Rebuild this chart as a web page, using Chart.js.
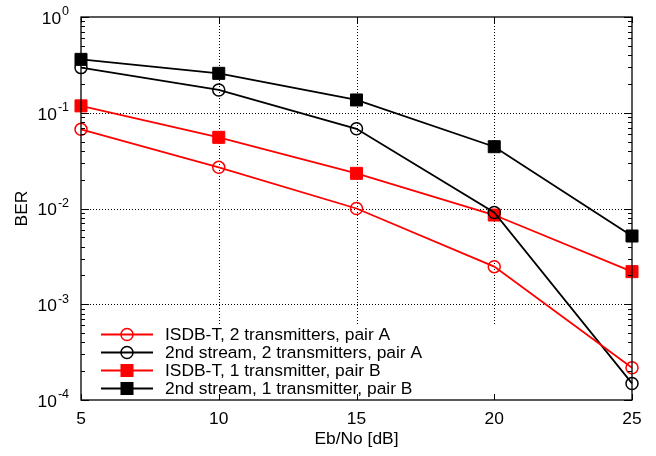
<!DOCTYPE html>
<html><head><meta charset="utf-8">
<script src="https://cdn.jsdelivr.net/npm/chart.js@4"></script>
<style>html,body{margin:0;padding:0;background:#fff}#c{display:block}</style>
</head><body>
<canvas id="c" width="656" height="456"></canvas>
<script>
// ---- data ----
const ebno = [5, 10, 15, 20, 25];
const isdb2A   = [0.0671, 0.0269, 0.0100, 0.00247, 0.000217];
const second2A = [0.296, 0.173, 0.068, 0.0091, 0.000149];
const isdb1B   = [0.118, 0.0554, 0.0233, 0.00855, 0.00219];
const second1B = [0.361, 0.258, 0.136, 0.0442, 0.00516];
const seriesNames = [
  'ISDB-T, 2 transmitters, pair A',
  '2nd stream, 2 transmitters, pair A',
  'ISDB-T, 1 transmitter, pair B',
  '2nd stream, 1 transmitter, pair B'
];
const xTickLabels = ['5', '10', '15', '20', '25'];
const yTickExponents = [0, -1, -2, -3, -4];
const xTitle = 'Eb/No [dB]';
const yTitle = 'BER';

const FONT = '"Liberation Sans", Arial, Helvetica, sans-serif';
const RED = '#ff0000', BLACK = '#000000';
const styles = [
  {color: RED,   point: 'circle', radius: 6,   fill: 'rgba(0,0,0,0)'},
  {color: BLACK, point: 'circle', radius: 6,   fill: 'rgba(0,0,0,0)'},
  {color: RED,   point: 'rect',   radius: 8.5, fill: RED},
  {color: BLACK, point: 'rect',   radius: 8.5, fill: BLACK}
];
const seriesData = [isdb2A, second2A, isdb1B, second1B];

const datasets = seriesData.map((arr, i) => ({
  label: seriesNames[i],
  data: arr.map((v, j) => ({x: ebno[j], y: v})),
  borderColor: styles[i].color,
  borderWidth: 1.8,
  pointStyle: styles[i].point,
  pointRadius: styles[i].radius,
  pointHoverRadius: styles[i].radius,
  pointBackgroundColor: styles[i].fill,
  pointBorderColor: styles[i].color,
  pointBorderWidth: styles[i].point === 'circle' ? 1.5 : 1,
  tension: 0,
  clip: false
}));

function drawMarker(ctx, st, x, y) {
  ctx.save();
  ctx.strokeStyle = st.color;
  ctx.fillStyle = st.fill;
  ctx.setLineDash([]);
  if (st.point === 'circle') {
    ctx.lineWidth = 1.5;
    ctx.beginPath();
    ctx.arc(x, y, st.radius, 0, Math.PI * 2);
    ctx.stroke();
  } else {
    const s = Math.SQRT1_2 * st.radius;
    ctx.lineWidth = 1;
    ctx.fillRect(x - s, y - s, 2 * s, 2 * s);
    ctx.strokeRect(x - s, y - s, 2 * s, 2 * s);
  }
  ctx.restore();
}

const legendTop = 325;

const gnuplotPlugin = {
  id: 'gnuplotFrame',
  beforeDatasetsDraw(chart) {
    const ctx = chart.ctx, a = chart.chartArea;
    const xs = chart.scales.x, ys = chart.scales.y;
    ctx.save();
    ctx.strokeStyle = '#000';
    ctx.lineWidth = 1;
    ctx.setLineDash([1, 2]);
    yTickExponents.forEach(e => {
      const v = Math.pow(10, e);
      if (e === 0 || e === -4) return;
      const y = Math.round(ys.getPixelForValue(v)) + 0.5;
      ctx.beginPath(); ctx.moveTo(a.left, y); ctx.lineTo(a.right, y); ctx.stroke();
    });
    ebno.forEach((xv, i) => {
      if (i === 0 || i === ebno.length - 1) return;
      const x = Math.round(xs.getPixelForValue(xv)) + 0.5;
      ctx.beginPath(); ctx.moveTo(x, a.top); ctx.lineTo(x, legendTop); ctx.stroke();
    });
    ctx.restore();
  },
  afterDatasetsDraw(chart) {
    const ctx = chart.ctx, a = chart.chartArea;
    const xs = chart.scales.x, ys = chart.scales.y;
    ctx.save();
    ctx.setLineDash([]);
    ctx.strokeStyle = '#000';
    ctx.lineWidth = 1.3;
    ctx.strokeRect(a.left, a.top, a.right - a.left, a.bottom - a.top);
    ctx.lineWidth = 1;
    // y ticks (major + minor), both sides, inward
    yTickExponents.forEach(e => {
      const base = Math.pow(10, e);
      const y = Math.round(ys.getPixelForValue(base)) + 0.5;
      ctx.beginPath();
      ctx.moveTo(a.left, y); ctx.lineTo(a.left + 8, y);
      ctx.moveTo(a.right, y); ctx.lineTo(a.right - 8, y);
      ctx.stroke();
      if (e < 0) {
        for (let m = 2; m <= 9; m++) {
          const ym = Math.round(ys.getPixelForValue(base * m)) + 0.5;
          ctx.beginPath();
          ctx.moveTo(a.left, ym); ctx.lineTo(a.left + 4, ym);
          ctx.moveTo(a.right, ym); ctx.lineTo(a.right - 4, ym);
          ctx.stroke();
        }
      }
    });
    // x ticks
    ebno.forEach(xv => {
      const x = Math.round(xs.getPixelForValue(xv)) + 0.5;
      ctx.beginPath();
      ctx.moveTo(x, a.bottom); ctx.lineTo(x, a.bottom - 6);
      ctx.moveTo(x, a.top); ctx.lineTo(x, a.top + 6);
      ctx.stroke();
    });
    // x tick labels
    ctx.fillStyle = '#000';
    ctx.font = '17.4px ' + FONT;
    ctx.textAlign = 'center';
    ctx.textBaseline = 'middle';
    ebno.forEach((xv, i) => {
      ctx.fillText(xTickLabels[i], xs.getPixelForValue(xv), a.bottom + 19);
    });
    // x title
    ctx.fillText(xTitle, (a.left + a.right) / 2, a.bottom + 39);
    // y tick labels 10^e
    yTickExponents.forEach(e => {
      const y = ys.getPixelForValue(Math.pow(10, e));
      ctx.font = '17.4px ' + FONT;
      const w1 = ctx.measureText('10').width;
      ctx.font = '12.5px ' + FONT;
      const sup = String(e).replace('-', '-');
      const w2 = ctx.measureText(sup).width;
      const right = a.left - 12;
      const x0 = right - w1 - w2 - 1;
      ctx.textAlign = 'left';
      ctx.font = '17.4px ' + FONT;
      ctx.fillText('10', x0, y + 2);
      ctx.font = '12.5px ' + FONT;
      ctx.fillText(sup, x0 + w1 + 1, y - 5);
    });
    // y title
    ctx.save();
    ctx.font = '17.4px ' + FONT;
    ctx.textAlign = 'center';
    ctx.textBaseline = 'middle';
    ctx.translate(22, (a.top + a.bottom) / 2);
    ctx.rotate(-Math.PI / 2);
    ctx.fillText(yTitle, 0, 0);
    ctx.restore();
    // legend
    ctx.font = '17.4px ' + FONT;
    ctx.textAlign = 'left';
    ctx.textBaseline = 'middle';
    const rowY = [334.5, 352.5, 370.5, 388.5];
    seriesNames.forEach((name, i) => {
      const y = rowY[i];
      ctx.strokeStyle = styles[i].color;
      ctx.lineWidth = 1.8;
      ctx.beginPath(); ctx.moveTo(101, y); ctx.lineTo(153, y); ctx.stroke();
      drawMarker(ctx, styles[i], 127, y);
      ctx.fillStyle = '#000';
      ctx.fillText(name, 165, y + 1);
    });
    ctx.restore();
  }
};

new Chart(document.getElementById('c'), {
  type: 'line',
  data: {datasets},
  options: {
    responsive: false,
    devicePixelRatio: 1,
    animation: false,
    layout: {padding: {left: 81, right: 24, top: 17, bottom: 56}},
    plugins: {legend: {display: false}, tooltip: {enabled: false}},
    scales: {
      x: {type: 'linear', min: 5, max: 25, display: false},
      y: {type: 'logarithmic', min: 1e-4, max: 1, display: false}
    }
  },
  plugins: [gnuplotPlugin]
});
</script>
</body></html>
